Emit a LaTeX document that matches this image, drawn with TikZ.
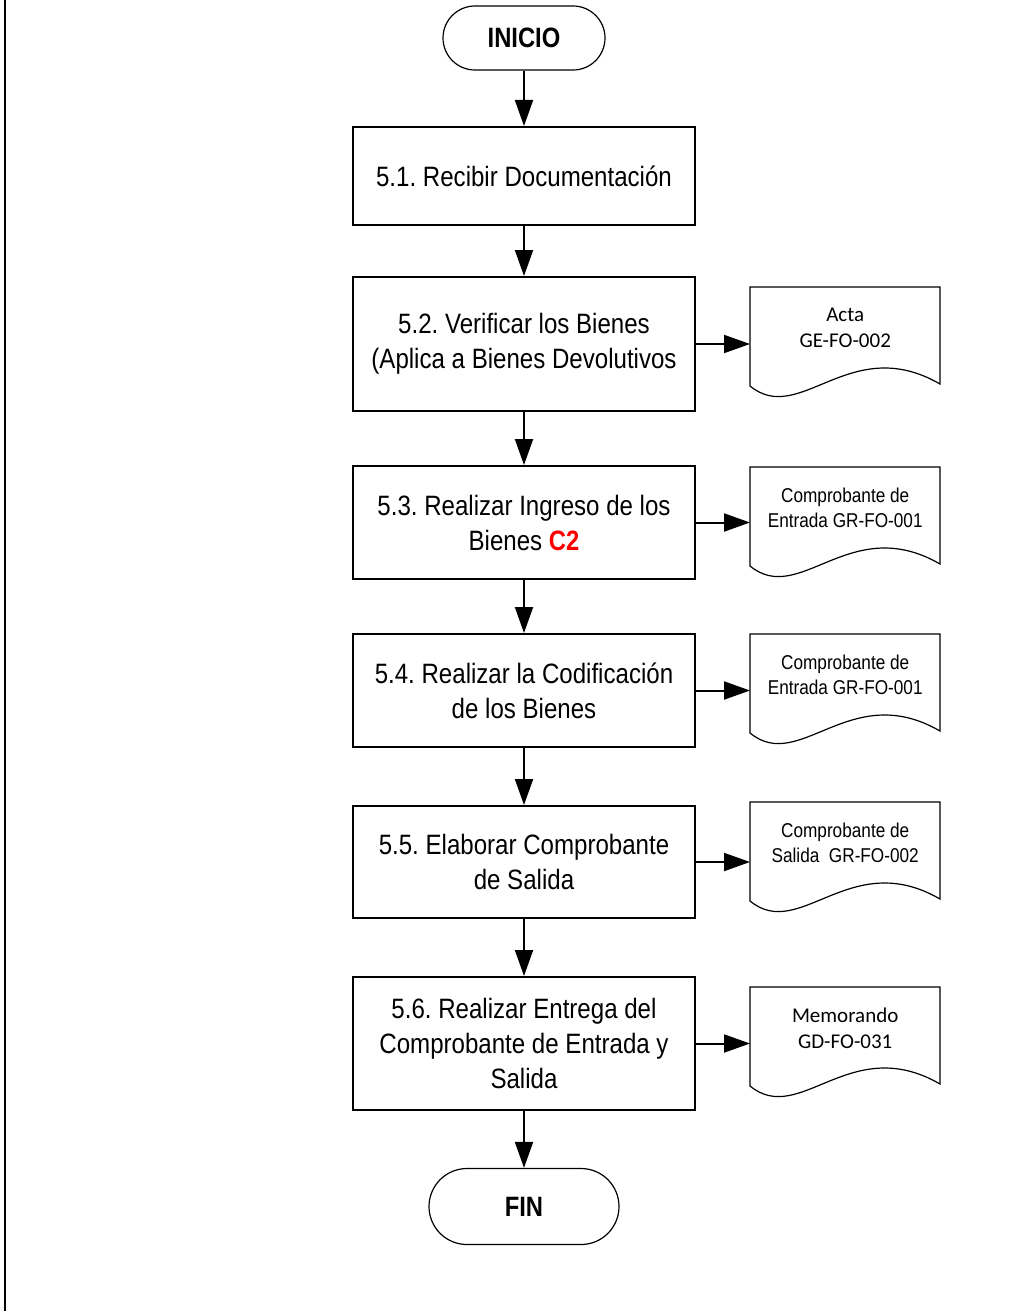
\documentclass[tikz,border=0pt]{standalone}
\usepackage{fontspec}
\setmainfont{Liberation Sans}
\newfontfamily\narrowfont[FakeStretch=0.86,BoldFeatures={FakeStretch=0.85}]{Liberation Sans}
\newfontfamily\calfont{Carlito}
\usetikzlibrary{arrows.meta,shapes.misc}

\tikzset{
  stepbox/.style={draw, line width=2pt, minimum width=342pt, minimum height=#1,
    align=center, inner sep=0pt, font=\narrowfont\fontsize{28}{35}\selectfont},
  terminal/.style={draw, line width=1.2pt, rounded rectangle, inner sep=0pt,
    font=\narrowfont\bfseries\fontsize{28}{32}\selectfont},
  docnode/.style={minimum width=190pt, minimum height=82pt, anchor=north west,
    align=center, inner sep=0pt},
  narrowdoc/.style={font=\narrowfont\fontsize{20}{25}\selectfont},
  caldoc/.style={font=\calfont\fontsize{21}{26}\selectfont},
  docline/.style={draw, line width=1.2pt, line join=miter},
  flow/.style={line width=2pt, -{Triangle[length=26pt,width=18pt]}},
}

% document symbol drawn around a document node (wavy lower edge)
\newcommand\docoutline[1]{%
  \draw[docline, shift={(#1.north west)}]
    (0,99) -- (0,0) -- (190,0) -- (190,97)
    .. controls (100,45) and (50,140) .. (0,99) -- cycle;}

\begin{document}
\frenchspacing
\begin{tikzpicture}[x=1pt,y=-1pt]
\useasboundingbox (0,0) rectangle (1031,1311);

% frame line on the left
\draw[line width=2pt] (5,0) -- (5,1311);

% terminals
\node[terminal, minimum width=162pt, minimum height=64pt] (inicio) at (524,38) {INICIO};
\node[terminal, minimum width=190pt, minimum height=76pt] (fin) at (524,1206.5) {FIN};

% process steps
\node[stepbox=98pt]  (s1) at (524,176)    {5.1. Recibir Documentación};
\node[stepbox=134pt] (s2) at (524,344)    {5.2. Verificar los Bienes\\(Aplica a Bienes Devolutivos};
\node[stepbox=113pt] (s3) at (524,522.5)  {5.3. Realizar Ingreso de los\\Bienes {\bfseries\color{red}C2}};
\node[stepbox=113pt] (s4) at (524,690.5)  {5.4. Realizar la Codificación\\de los Bienes};
\node[stepbox=112pt] (s5) at (524,862)    {5.5. Elaborar Comprobante\\de Salida};
\node[stepbox=133pt] (s6) at (524,1043.5) {5.6. Realizar Entrega del\\Comprobante de Entrada y\\Salida};

% documents
\node[docnode, caldoc]    (d1) at (750,287) {Acta\\GE-FO-002};
\node[docnode, narrowdoc] (d2) at (750,467) {Comprobante de\\Entrada GR-FO-001};
\node[docnode, narrowdoc] (d3) at (750,634) {Comprobante de\\Entrada GR-FO-001};
\node[docnode, narrowdoc] (d4) at (750,802) {Comprobante de\\Salida\ \ GR-FO-002};
\node[docnode, caldoc]    (d5) at (750,987) {Memorando\\GD-FO-031};
\docoutline{d1}
\docoutline{d2}
\docoutline{d3}
\docoutline{d4}
\docoutline{d5}

% main flow
\draw[flow] (inicio) -- (s1);
\draw[flow] (s1) -- (s2);
\draw[flow] (s2) -- (s3);
\draw[flow] (s3) -- (s4);
\draw[flow] (s4) -- (s5);
\draw[flow] (s5) -- (s6);
\draw[flow] (s6) -- (fin);

% outputs
\draw[flow] (s2.east) -- (s2.east -| d1.west);
\draw[flow] (s3.east) -- (s3.east -| d2.west);
\draw[flow] (s4.east) -- (s4.east -| d3.west);
\draw[flow] (s5.east) -- (s5.east -| d4.west);
\draw[flow] (s6.east) -- (s6.east -| d5.west);
\end{tikzpicture}
\end{document}
